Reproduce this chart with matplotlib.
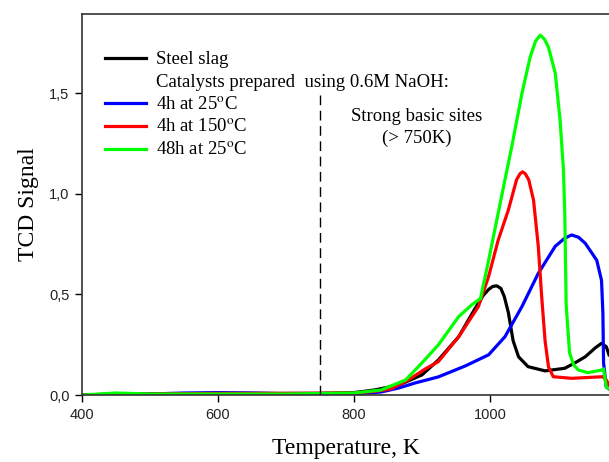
import matplotlib
matplotlib.use("Agg")
import matplotlib.pyplot as plt
from matplotlib.lines import Line2D

plt.rcParams['mathtext.fontset'] = 'stix'

# ---- data ----
T_black = [400, 450, 500, 600, 700, 750, 800, 830, 866, 900, 924, 954, 978, 990, 998, 1004, 1010, 1016, 1021, 1027, 1034, 1042, 1056, 1081, 1110, 1125, 1140, 1155, 1164, 1171, 1175]
y_black = [0.0, 0.005, 0.005, 0.008, 0.008, 0.008, 0.012, 0.025, 0.05, 0.10, 0.174, 0.29, 0.43, 0.495, 0.525, 0.54, 0.543, 0.53, 0.49, 0.41, 0.27, 0.19, 0.141, 0.12, 0.133, 0.16, 0.19, 0.235, 0.257, 0.24, 0.20]

T_red = [400, 500, 600, 700, 800, 830, 854, 880, 905, 924, 954, 983, 998, 1012, 1027, 1039, 1044, 1048, 1052, 1057, 1064, 1071, 1076, 1081, 1086, 1093, 1120, 1166, 1171, 1175]
y_red = [0.0, 0.005, 0.008, 0.008, 0.01, 0.018, 0.03, 0.075, 0.13, 0.166, 0.29, 0.44, 0.59, 0.77, 0.92, 1.07, 1.10, 1.11, 1.10, 1.07, 0.97, 0.74, 0.49, 0.27, 0.14, 0.091, 0.083, 0.091, 0.075, 0.05]

T_green = [400, 450, 500, 600, 700, 800, 840, 876, 900, 924, 954, 973, 986, 998, 1010, 1022, 1032, 1047, 1059, 1067, 1074, 1080, 1086, 1096, 1103, 1108, 1110, 1112, 1117, 1123, 1130, 1144, 1164, 1167, 1171, 1175]
y_green = [0.0, 0.01, 0.005, 0.005, 0.005, 0.01, 0.025, 0.075, 0.16, 0.249, 0.39, 0.448, 0.48, 0.67, 0.87, 1.07, 1.235, 1.50, 1.68, 1.76, 1.79, 1.77, 1.73, 1.60, 1.37, 1.12, 0.9, 0.45, 0.21, 0.15, 0.124, 0.111, 0.124, 0.13, 0.04, 0.03]

T_blue = [400, 500, 550, 600, 650, 700, 800, 840, 866, 890, 924, 964, 998, 1022, 1047, 1071, 1096, 1110, 1120, 1130, 1140, 1157, 1164, 1166, 1167, 1171, 1175]
y_blue = [0.0, 0.005, 0.01, 0.012, 0.01, 0.006, 0.005, 0.015, 0.035, 0.06, 0.09, 0.145, 0.20, 0.29, 0.44, 0.605, 0.74, 0.78, 0.796, 0.785, 0.755, 0.67, 0.57, 0.41, 0.16, 0.04, 0.03]

labels = ["Steel slag", "Catalysts prepared  using 0.6M NaOH:",
          r"4h at 25$^{\mathrm{o}}$C", r"4h at 150$^{\mathrm{o}}$C", r"48h at 25$^{\mathrm{o}}$C"]
xticks = [400, 600, 800, 1000]
yticks = [0.0, 0.5, 1.0, 1.5]
ytick_labels = ["0,0", "0,5", "1,0", "1,5"]
divider_T = 750

serif = ['Liberation Serif', 'DejaVu Serif']
sans = ['Liberation Sans', 'DejaVu Sans']

fig = plt.figure(figsize=(6.09, 4.62), dpi=100)
ax = fig.add_axes([0.1346, 0.145, 0.8654, 0.8247])

lw = 2.3
l1, = ax.plot(T_black, y_black, color='black', lw=lw)
l2, = ax.plot(T_blue, y_blue, color='#0000ff', lw=lw)
l3, = ax.plot(T_red, y_red, color='#ff0000', lw=lw)
l4, = ax.plot(T_green, y_green, color='#00ff00', lw=lw)

ax.axvline(divider_T, ymin=0, ymax=1.49 / 1.895, color='black', lw=1.0, ls=(0, (7, 4)))

ax.text(892, 1.33, "Strong basic sites\n(> 750K)", ha='center', va='center',
        fontsize=13.5, family=serif, linespacing=1.4)

blank = Line2D([], [], color='none')
leg = ax.legend([l1, blank, l2, l3, l4], labels, loc='upper left',
                bbox_to_anchor=(0.0436, 0.902), frameon=False, borderpad=0,
                handlelength=2.2, handletextpad=0.5, labelspacing=0.28,
                prop={'family': serif, 'size': 13.5}, borderaxespad=0)

ax.set_xlim(400, 1175)
ax.set_ylim(0, 1.895)
ax.set_xticks(xticks)
ax.set_xticklabels([str(t) for t in xticks], family=sans, fontsize=10.5, color='#222222')
ax.set_yticks(yticks)
ax.set_yticklabels(ytick_labels, family=sans, fontsize=10.5, color='#222222')
ax.tick_params(direction='out', length=5, width=1, top=False, right=False, pad=4)

ax.spines['right'].set_visible(False)
for s in ['left', 'bottom', 'top']:
    ax.spines[s].set_linewidth(1.2)
    ax.spines[s].set_color('#333333')

ax.set_xlabel("Temperature, K", family=serif, fontsize=17, labelpad=12)
ax.set_ylabel("TCD Signal", family=serif, fontsize=17, labelpad=7)

fig.savefig("out.png", dpi=100)
